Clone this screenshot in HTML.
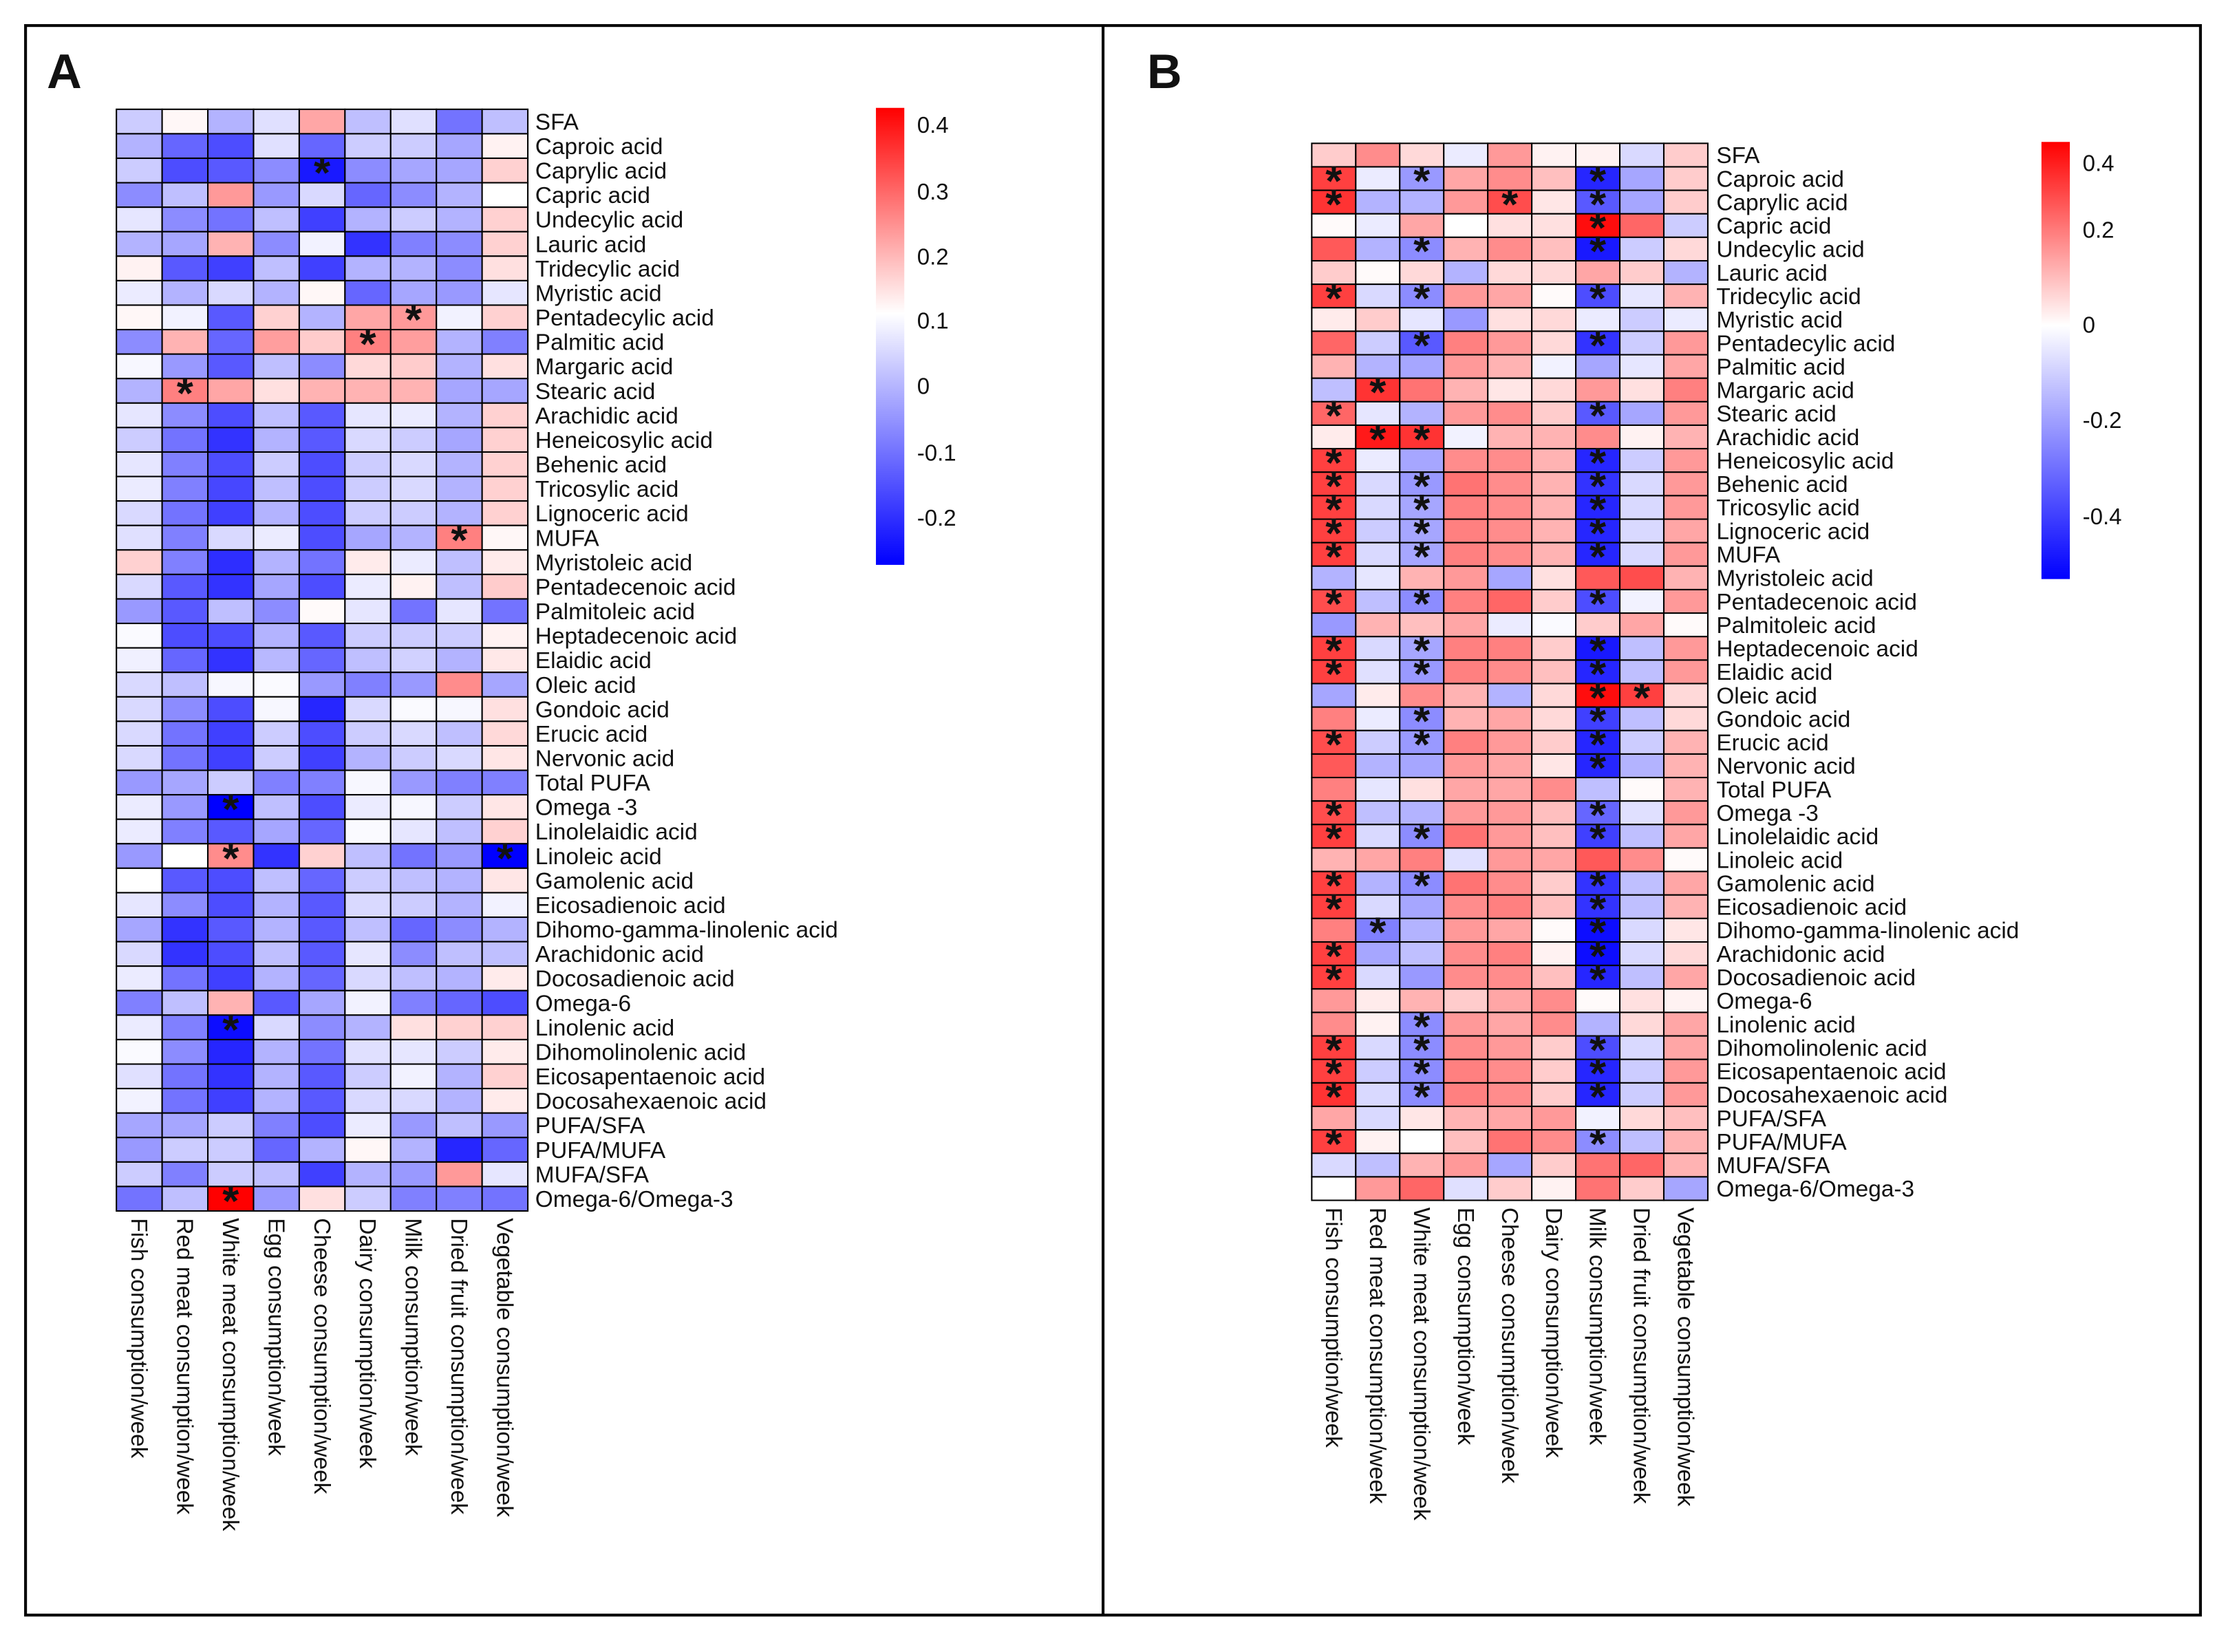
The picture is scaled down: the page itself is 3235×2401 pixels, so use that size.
<!DOCTYPE html>
<html><head><meta charset="utf-8"><style>
html,body{margin:0;padding:0;background:#fff}
svg{display:block}
text{font-family:"Liberation Sans",Arial,sans-serif;fill:#111}
</style></head><body>
<svg id="fig" xmlns="http://www.w3.org/2000/svg" width="3235" height="2401" viewBox="0 0 1568 1164" preserveAspectRatio="none">
<defs>
<linearGradient id="gradA" x1="0" y1="0" x2="0" y2="1">
<stop offset="0" stop-color="#ff0000"/><stop offset="0.45" stop-color="#ffffff"/><stop offset="1" stop-color="#0000ff"/>
</linearGradient>
<linearGradient id="gradB" x1="0" y1="0" x2="0" y2="1">
<stop offset="0" stop-color="#ff0000"/><stop offset="0.42" stop-color="#ffffff"/><stop offset="1" stop-color="#0000ff"/>
</linearGradient>
</defs>
<rect x="18" y="18" width="1532" height="1120" fill="none" stroke="#000" stroke-width="2"/>
<line x1="777" y1="18" x2="777" y2="1138" stroke="#000" stroke-width="2"/>
<text x="33" y="62" font-size="34" font-weight="bold">A</text>
<text x="808" y="62" font-size="34" font-weight="bold">B</text>
<g id="panelA"></g>
<g id="panelB"></g>
<rect x="617" y="76" width="20" height="322" fill="url(#gradA)"/>
<rect x="1438" y="100" width="20" height="308" fill="url(#gradB)"/>
<g id="cbA"></g>
<g id="cbB"></g>
</svg>
<script>
const rowLabels = ["SFA","Caproic acid","Caprylic acid","Capric acid","Undecylic acid","Lauric acid","Tridecylic acid","Myristic acid","Pentadecylic acid","Palmitic acid","Margaric acid","Stearic acid","Arachidic acid","Heneicosylic acid","Behenic acid","Tricosylic acid","Lignoceric acid","MUFA","Myristoleic acid","Pentadecenoic acid","Palmitoleic acid","Heptadecenoic acid","Elaidic acid","Oleic acid","Gondoic acid","Erucic acid","Nervonic acid","Total PUFA","Omega -3","Linolelaidic acid","Linoleic acid","Gamolenic acid","Eicosadienoic acid","Dihomo-gamma-linolenic acid","Arachidonic acid","Docosadienoic acid","Omega-6","Linolenic acid","Dihomolinolenic acid","Eicosapentaenoic acid","Docosahexaenoic acid","PUFA/SFA","PUFA/MUFA","MUFA/SFA","Omega-6/Omega-3"];
const colLabels = ["Fish consumption/week","Red meat consumption/week","White meat consumption/week","Egg consumption/week","Cheese consumption/week","Dairy consumption/week","Milk consumption/week","Dried fruit consumption/week","Vegetable consumption/week"];
const valuesA = [
[-0.2,0.03,-0.3,-0.12,0.35,-0.25,-0.12,-0.55,-0.25],
[-0.3,-0.6,-0.7,-0.12,-0.6,-0.2,-0.2,-0.35,0.05],
[-0.2,-0.7,-0.65,-0.45,-0.9,-0.45,-0.35,-0.35,0.18],
[-0.45,-0.25,0.4,-0.4,-0.15,-0.6,-0.45,-0.3,0.0],
[-0.1,-0.45,-0.55,-0.25,-0.75,-0.3,-0.2,-0.3,0.18],
[-0.3,-0.35,0.3,-0.45,-0.05,-0.8,-0.5,-0.45,0.18],
[0.05,-0.65,-0.75,-0.25,-0.75,-0.3,-0.3,-0.45,0.12],
[-0.08,-0.3,-0.15,-0.3,0.03,-0.6,-0.35,-0.4,-0.1],
[0.03,-0.05,-0.65,0.18,-0.3,0.35,0.4,-0.05,0.18],
[-0.45,0.3,-0.6,0.38,0.2,0.5,0.38,-0.3,-0.5],
[-0.03,-0.4,-0.65,-0.25,-0.45,0.15,0.2,-0.3,0.12],
[-0.3,0.5,0.35,0.12,0.3,0.3,0.3,-0.35,-0.35],
[-0.1,-0.45,-0.7,-0.25,-0.65,-0.1,-0.08,-0.3,0.18],
[-0.2,-0.55,-0.8,-0.3,-0.65,-0.15,-0.2,-0.35,0.18],
[-0.1,-0.5,-0.7,-0.2,-0.7,-0.2,-0.15,-0.3,0.18],
[-0.08,-0.5,-0.72,-0.25,-0.7,-0.2,-0.15,-0.3,0.18],
[-0.15,-0.55,-0.75,-0.3,-0.7,-0.2,-0.2,-0.3,0.18],
[-0.12,-0.5,-0.15,-0.08,-0.7,-0.35,-0.3,0.5,0.03],
[0.18,-0.5,-0.82,-0.3,-0.55,0.08,-0.08,-0.25,0.08],
[-0.15,-0.65,-0.8,-0.35,-0.7,-0.08,0.05,-0.25,0.2],
[-0.4,-0.65,-0.25,-0.45,0.02,-0.1,-0.55,-0.1,-0.55],
[-0.02,-0.7,-0.7,-0.3,-0.65,-0.2,-0.2,-0.2,0.05],
[-0.06,-0.6,-0.8,-0.28,-0.6,-0.25,-0.18,-0.3,0.09],
[-0.15,-0.25,-0.03,-0.02,-0.4,-0.5,-0.4,0.45,-0.35],
[-0.15,-0.45,-0.7,-0.03,-0.85,-0.15,-0.02,-0.03,0.12],
[-0.15,-0.55,-0.75,-0.2,-0.7,-0.2,-0.15,-0.25,0.15],
[-0.15,-0.55,-0.75,-0.2,-0.75,-0.3,-0.2,-0.15,0.1],
[-0.4,-0.35,-0.2,-0.5,-0.5,-0.03,-0.4,-0.5,-0.5],
[-0.08,-0.4,-1,-0.25,-0.7,-0.08,-0.03,-0.2,0.1],
[-0.08,-0.5,-0.65,-0.35,-0.6,-0.02,-0.1,-0.25,0.18],
[-0.4,0.0,0.45,-0.8,0.18,-0.25,-0.55,-0.4,-1],
[0.0,-0.65,-0.7,-0.25,-0.6,-0.2,-0.25,-0.3,0.1],
[-0.1,-0.45,-0.7,-0.3,-0.65,-0.15,-0.2,-0.3,-0.05],
[-0.35,-0.8,-0.65,-0.3,-0.65,-0.25,-0.6,-0.45,-0.3],
[-0.15,-0.8,-0.7,-0.25,-0.65,-0.1,-0.45,-0.25,-0.25],
[-0.08,-0.55,-0.75,-0.3,-0.6,-0.15,-0.25,-0.3,0.08],
[-0.5,-0.25,0.3,-0.65,-0.35,-0.05,-0.5,-0.6,-0.7],
[-0.08,-0.5,-0.95,-0.15,-0.45,-0.3,0.12,0.18,0.18],
[-0.02,-0.45,-0.85,-0.3,-0.55,-0.12,-0.1,-0.2,0.08],
[-0.12,-0.55,-0.8,-0.3,-0.65,-0.2,-0.05,-0.3,0.18],
[-0.05,-0.55,-0.75,-0.3,-0.65,-0.15,-0.15,-0.3,0.08],
[-0.35,-0.35,-0.2,-0.5,-0.7,-0.08,-0.4,-0.25,-0.4],
[-0.4,-0.2,-0.2,-0.6,-0.3,0.03,-0.3,-0.85,-0.6],
[-0.2,-0.5,-0.2,-0.25,-0.75,-0.3,-0.4,0.4,-0.1],
[-0.55,-0.25,1,-0.4,0.12,-0.2,-0.5,-0.5,-0.55]];
const starsA = [[2,4],[8,6],[9,5],[11,1],[17,7],[28,2],[30,2],[30,8],[37,2],[44,2]];
const valuesB = [
[0.2,0.45,0.15,-0.08,0.4,0.05,0.05,-0.15,0.2],
[0.75,-0.08,-0.4,0.35,0.45,0.25,-0.85,-0.35,0.2],
[0.8,-0.3,-0.3,0.4,0.7,0.1,-0.65,-0.35,0.2],
[0.02,-0.08,0.35,0.0,0.12,0.12,0.95,0.6,-0.2],
[0.65,-0.3,-0.45,0.3,0.45,0.25,-0.9,-0.2,0.15],
[0.2,0.02,0.15,-0.3,0.15,0.15,0.35,0.2,-0.3],
[0.75,-0.15,-0.45,0.4,0.35,0.02,-0.7,-0.1,0.3],
[0.08,0.2,-0.1,-0.4,0.12,0.15,-0.08,-0.2,-0.08],
[0.6,-0.2,-0.65,0.5,0.4,0.15,-0.8,-0.2,0.4],
[0.3,-0.3,-0.35,0.4,0.3,-0.05,-0.35,-0.1,0.35],
[-0.25,0.8,0.55,0.3,0.1,0.15,0.4,0.12,0.5],
[0.6,-0.1,-0.3,0.4,0.45,0.2,-0.65,-0.35,0.4],
[0.08,0.9,0.8,-0.05,0.3,0.3,0.45,0.05,0.3],
[0.75,-0.08,-0.35,0.45,0.45,0.3,-0.85,-0.2,0.4],
[0.75,-0.15,-0.4,0.55,0.45,0.3,-0.8,-0.15,0.4],
[0.75,-0.15,-0.35,0.5,0.45,0.3,-0.85,-0.15,0.4],
[0.75,-0.2,-0.35,0.5,0.45,0.3,-0.85,-0.15,0.35],
[0.75,-0.15,-0.35,0.5,0.45,0.3,-0.85,-0.15,0.4],
[-0.3,-0.1,0.3,0.4,-0.35,0.12,0.65,0.7,0.3],
[0.7,-0.25,-0.45,0.5,0.6,0.2,-0.7,-0.05,0.4],
[-0.4,0.3,0.25,0.35,-0.08,-0.02,0.2,0.35,0.02],
[0.75,-0.15,-0.35,0.5,0.5,0.2,-0.9,-0.25,0.4],
[0.75,-0.12,-0.4,0.5,0.45,0.25,-0.85,-0.25,0.4],
[-0.35,0.08,0.45,0.3,-0.3,0.15,0.95,0.75,0.15],
[0.5,-0.08,-0.45,0.3,0.35,0.15,-0.75,-0.25,0.15],
[0.7,-0.2,-0.4,0.5,0.4,0.2,-0.85,-0.2,0.3],
[0.65,-0.3,-0.35,0.4,0.35,0.1,-0.85,-0.3,0.3],
[0.5,-0.1,0.12,0.35,0.35,0.45,-0.25,0.02,0.3],
[0.7,-0.25,-0.3,0.4,0.4,0.25,-0.6,-0.12,0.4],
[0.75,-0.15,-0.45,0.55,0.4,0.25,-0.75,-0.25,0.35],
[0.3,0.35,0.5,-0.12,0.4,0.35,0.65,0.45,0.02],
[0.75,-0.3,-0.45,0.55,0.45,0.2,-0.8,-0.25,0.35],
[0.75,-0.15,-0.35,0.45,0.5,0.25,-0.8,-0.25,0.3],
[0.5,-0.5,-0.3,0.4,0.35,0.02,-0.95,-0.15,0.1],
[0.75,-0.35,-0.25,0.45,0.5,0.05,-0.95,-0.15,0.15],
[0.75,-0.15,-0.4,0.45,0.45,0.25,-0.85,-0.25,0.35],
[0.4,0.08,0.3,0.2,0.35,0.45,0.02,0.12,0.05],
[0.45,0.05,-0.45,0.4,0.35,0.45,-0.3,0.15,0.35],
[0.75,-0.15,-0.45,0.45,0.4,0.2,-0.7,-0.15,0.35],
[0.75,-0.2,-0.45,0.5,0.45,0.2,-0.85,-0.2,0.4],
[0.8,-0.15,-0.45,0.5,0.45,0.2,-0.85,-0.2,0.4],
[0.35,-0.15,0.1,0.3,0.35,0.4,-0.05,0.15,0.25],
[0.75,0.05,0.0,0.25,0.55,0.45,-0.45,-0.25,0.3],
[-0.15,-0.25,0.3,0.4,-0.35,0.2,0.55,0.6,0.3],
[0.0,0.4,0.6,-0.12,0.2,0.05,0.55,0.2,-0.35]];
const starsB = [[1,0],[1,2],[1,6],[2,0],[2,4],[2,6],[3,6],[4,2],[4,6],[6,0],[6,2],[6,6],[8,2],[8,6],[10,1],[11,0],[11,6],[12,1],[12,2],[13,0],[13,6],[14,0],[14,2],[14,6],[15,0],[15,2],[15,6],[16,0],[16,2],[16,6],[17,0],[17,2],[17,6],[19,0],[19,2],[19,6],[21,0],[21,2],[21,6],[22,0],[22,2],[22,6],[23,6],[23,7],[24,2],[24,6],[25,0],[25,2],[25,6],[26,6],[28,0],[28,6],[29,0],[29,2],[29,6],[31,0],[31,2],[31,6],[32,0],[32,6],[33,1],[33,6],[34,0],[34,6],[35,0],[35,6],[37,2],[38,0],[38,2],[38,6],[39,0],[39,2],[39,6],[40,0],[40,2],[40,6],[42,0],[42,6]];
const ticksA = ["0.4","0.3","0.2","0.1","0","-0.1","-0.2"];
const ticksAy = [88,135,181,226,272,319,365];
const ticksB = ["0.4","0.2","0","-0.2","-0.4"];
const ticksBy = [115,162,229,296,364];

const NS = "http://www.w3.org/2000/svg";
function color(v){
  v = Math.max(-1, Math.min(1, v));
  if (v >= 0) { const g = Math.round(255*(1-v)); return `rgb(255,${g},${g})`; }
  const r = Math.round(255*(1+v)); return `rgb(${r},${r},255)`;
}
function mk(tag, attrs){ const e = document.createElementNS(NS, tag); for (const k in attrs) e.setAttribute(k, attrs[k]); return e; }

function drawPanel(gid, vals, stars, x0, y0, cw, rh, labX, fs){
  const g = document.getElementById(gid);
  const xs = c => x0 + c*cw;
  const ys = r => y0 + r*rh;
  vals.forEach((row, r) => row.forEach((v, c) => {
    const rc = mk('rect', {x: xs(c), y: ys(r), width: cw, height: rh, fill: color(v), stroke: '#000', 'stroke-width': 1});
    
    
    g.appendChild(rc);
  }));
  stars.forEach(([r, c]) => {
    const t = mk('text', {x: xs(c) + cw/2, y: ys(r) + rh*0.5 + 12, 'font-size': 30, 'text-anchor': 'middle', 'font-weight': 'bold'});
    t.textContent = '*';
    
    
    g.appendChild(t);
  });
  rowLabels.forEach((lab, r) => {
    const t = mk('text', {x: labX, y: ys(r) + rh/2 + 5.7, 'font-size': fs});
    t.textContent = lab;
    
    
    g.appendChild(t);
  });
  colLabels.forEach((lab, c) => {
    const cx = xs(c) + cw/2 - 5.5, cy = ys(vals.length) + 5;
    const t = mk('text', {x: cx, y: cy, 'font-size': fs, transform: `rotate(90 ${cx} ${cy})`});
    t.textContent = lab;
    
    
    g.appendChild(t);
  });
}
drawPanel('panelA', valuesA, starsA, 82, 77, 32.2, 17.25, 377, 16.2);
drawPanel('panelB', valuesB, starsB, 924, 101, 31, 16.55, 1209, 16.2);

function drawTicks(gid, labels, ys, x){
  const g = document.getElementById(gid);
  labels.forEach((lab, i) => {
    const t = mk('text', {x: x, y: ys[i] + 5.5, 'font-size': 16});
    t.textContent = lab;
    
    
    g.appendChild(t);
  });
}
drawTicks('cbA', ticksA, ticksAy, 646);
drawTicks('cbB', ticksB, ticksBy, 1467);
</script>
</body></html>
